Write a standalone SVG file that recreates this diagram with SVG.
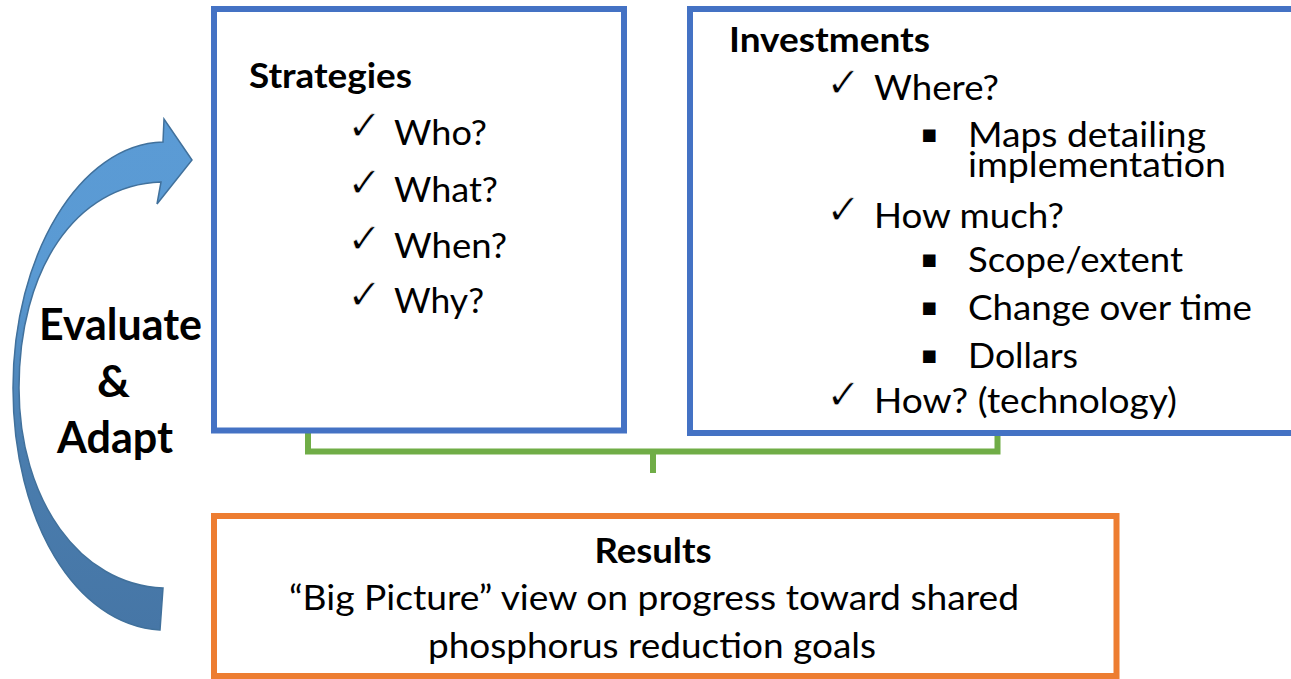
<svg xmlns="http://www.w3.org/2000/svg" width="1291" height="679" viewBox="0 0 1291 679">
  <defs>
    <linearGradient id="arrowGrad" gradientUnits="userSpaceOnUse" x1="0" y1="119" x2="0" y2="630">
      <stop offset="0" stop-color="#5B9BD5"/>
      <stop offset="0.3" stop-color="#5A9AD3"/>
      <stop offset="0.65" stop-color="#4A7DAE"/>
      <stop offset="1" stop-color="#4676A6"/>
    </linearGradient>
  </defs>
  <style>
    .blue { fill: #FFFFFF; stroke: #4472C4; stroke-width: 6; }
    .orange { fill: #FFFFFF; stroke: #ED7D31; stroke-width: 6; }
    .conn { fill: none; stroke: #70AD47; stroke-width: 6; }
    .t { font-family: Lato, "Open Sans", "Liberation Sans", sans-serif; font-size: 35px; fill: #000000; }
    .b { font-family: Lato, "Open Sans", "Liberation Sans", sans-serif; font-size: 35px; font-weight: bold; fill: #000000; }
    .big { font-family: Lato, "Open Sans", "Liberation Sans", sans-serif; font-size: 43px; font-weight: bold; fill: #000000; }
    .chk { font-family: "DejaVu Sans", sans-serif; font-size: 42px; fill: #000000; stroke: #FFFFFF; stroke-width: 0.8; }
    .sq { font-family: "DejaVu Sans", sans-serif; font-size: 25px; fill: #000000; }
  </style>
  <rect width="1291" height="679" fill="#FFFFFF"/>

  <g id="connectors">
    <path class="conn" d="M308,431 V451.5 H997.5 V433"/>
    <path class="conn" d="M653,451.5 V473"/>
  </g>

  <g id="evaluate-adapt">
    <path d="M163,142 C80,144 13,255 13,388 C13,520 75,625 160,630 L163,588 C80,585 19,500 19,388 C19,270 75,185 161,182 L157,204 L192,160 L164,119 Z" fill="url(#arrowGrad)" stroke="#41719C" stroke-width="1.5" stroke-linejoin="miter"/>
    <text class="big" x="39" y="340" textLength="163" lengthAdjust="spacingAndGlyphs">Evaluate</text>
    <text class="big" x="97" y="397" textLength="33" lengthAdjust="spacingAndGlyphs">&amp;</text>
    <text class="big" x="57" y="453" textLength="116" lengthAdjust="spacingAndGlyphs">Adapt</text>
  </g>

  <g id="strategies">
    <rect class="blue" x="214" y="9" width="410" height="421.5"/>
    <text class="b" x="249" y="88" textLength="163" lengthAdjust="spacingAndGlyphs">Strategies</text>
    <text class="chk" x="347" y="140">✓</text>
    <text class="t" x="394" y="145" textLength="93" lengthAdjust="spacingAndGlyphs">Who?</text>
    <text class="chk" x="347" y="197">✓</text>
    <text class="t" x="394" y="202" textLength="104" lengthAdjust="spacingAndGlyphs">What?</text>
    <text class="chk" x="347" y="253">✓</text>
    <text class="t" x="394" y="258" textLength="113" lengthAdjust="spacingAndGlyphs">When?</text>
    <text class="chk" x="347" y="309">✓</text>
    <text class="t" x="394" y="313" textLength="90" lengthAdjust="spacingAndGlyphs">Why?</text>
  </g>

  <g id="investments">
    <rect class="blue" x="690" y="9" width="620" height="424"/>
    <text class="b" x="729" y="52" textLength="201" lengthAdjust="spacingAndGlyphs">Investments</text>
    <text class="chk" x="826" y="97">✓</text>
    <text class="t" x="874" y="100" textLength="125" lengthAdjust="spacingAndGlyphs">Where?</text>
    <text class="sq" x="921" y="142">▪</text>
    <text class="t" x="968" y="147" textLength="238" lengthAdjust="spacingAndGlyphs">Maps detailing</text>
    <text class="t" x="968" y="177" textLength="258" lengthAdjust="spacingAndGlyphs">implementation</text>
    <text class="chk" x="826" y="224">✓</text>
    <text class="t" x="874" y="228" textLength="190" lengthAdjust="spacingAndGlyphs">How much?</text>
    <text class="sq" x="921" y="267">▪</text>
    <text class="t" x="968" y="272" textLength="215" lengthAdjust="spacingAndGlyphs">Scope/extent</text>
    <text class="sq" x="921" y="315">▪</text>
    <text class="t" x="968" y="320" textLength="284" lengthAdjust="spacingAndGlyphs">Change over time</text>
    <text class="sq" x="921" y="363">▪</text>
    <text class="t" x="968" y="368" textLength="110" lengthAdjust="spacingAndGlyphs">Dollars</text>
    <text class="chk" x="826" y="409">✓</text>
    <text class="t" x="874" y="413" textLength="303" lengthAdjust="spacingAndGlyphs">How? (technology)</text>
  </g>

  <g id="results">
    <rect class="orange" x="214" y="516" width="902.5" height="160"/>
    <text class="b" x="653" y="563" text-anchor="middle" textLength="117" lengthAdjust="spacingAndGlyphs">Results</text>
    <text class="t" x="654" y="610" text-anchor="middle" textLength="730" lengthAdjust="spacingAndGlyphs">“Big Picture” view on progress toward shared</text>
    <text class="t" x="652" y="658" text-anchor="middle" textLength="448" lengthAdjust="spacingAndGlyphs">phosphorus reduction goals</text>
  </g>
</svg>
